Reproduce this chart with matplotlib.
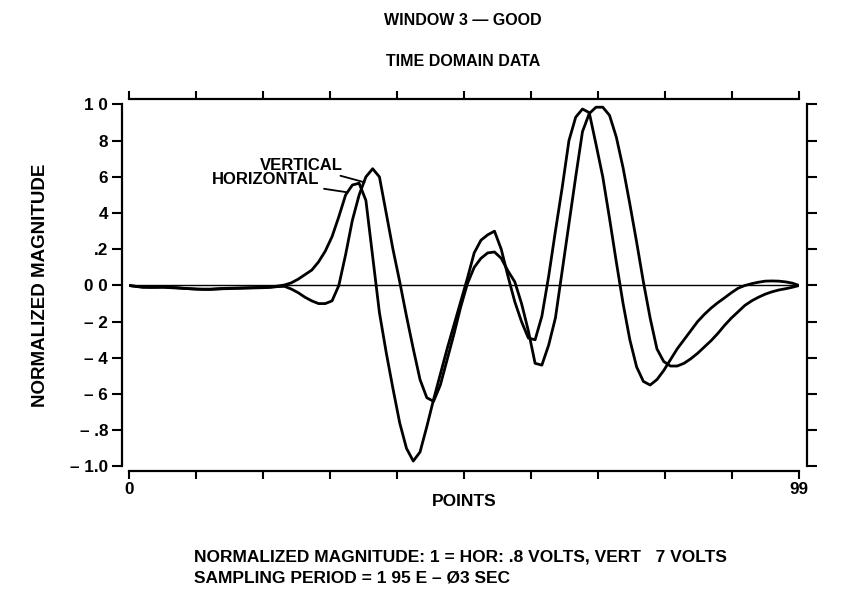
import numpy as np
import matplotlib
matplotlib.use("Agg")
import matplotlib.pyplot as plt

plt.rcParams['font.family'] = ['Liberation Sans', 'DejaVu Sans']
plt.rcParams['font.weight'] = 'bold'
plt.rcParams['axes.labelweight'] = 'bold'

# sample index 0..99
points = np.arange(100)

# horizontal channel, normalized
horizontal = [
    0.0, -0.005, -0.01, -0.01, -0.01, -0.008, -0.01, -0.012, -0.015, -0.018,
    -0.02, -0.02, -0.02, -0.018, -0.016, -0.015, -0.014, -0.013, -0.012, -0.011,
    -0.01, -0.008, -0.003, 0.003, 0.015, 0.035, 0.06, 0.085, 0.13, 0.19,
    0.27, 0.38, 0.5, 0.555, 0.565, 0.47, 0.16, -0.15, -0.37, -0.57,
    -0.76, -0.9, -0.97, -0.92, -0.78, -0.63, -0.49, -0.35, -0.22, -0.09,
    0.04, 0.18, 0.25, 0.28, 0.3, 0.2, 0.05, -0.09, -0.2, -0.29,
    -0.3, -0.17, 0.05, 0.3, 0.54, 0.8, 0.93, 0.975, 0.955, 0.78,
    0.6, 0.37, 0.13, -0.1, -0.3, -0.45, -0.53, -0.55, -0.52, -0.47,
    -0.41, -0.35, -0.3, -0.25, -0.2, -0.16, -0.125, -0.095, -0.068, -0.04,
    -0.015, 0.0, 0.01, 0.018, 0.024, 0.025, 0.024, 0.02, 0.013, 0.0,
]

# vertical channel, normalized
vertical = [
    0.0, -0.005, -0.008, -0.01, -0.01, -0.01, -0.012, -0.014, -0.016, -0.018,
    -0.02, -0.022, -0.022, -0.02, -0.018, -0.017, -0.016, -0.015, -0.014, -0.013,
    -0.012, -0.01, -0.006, -0.005, -0.02, -0.04, -0.065, -0.085, -0.1, -0.1,
    -0.085, 0.0, 0.17, 0.36, 0.5, 0.6, 0.645, 0.6, 0.4, 0.2,
    0.02, -0.17, -0.35, -0.52, -0.62, -0.64, -0.55, -0.41, -0.27, -0.12,
    0.01, 0.1, 0.15, 0.18, 0.185, 0.15, 0.08, 0.02, -0.1, -0.25,
    -0.43, -0.44, -0.33, -0.18, 0.08, 0.34, 0.6, 0.85, 0.95, 0.985,
    0.985, 0.94, 0.82, 0.65, 0.45, 0.24, 0.02, -0.18, -0.35, -0.42,
    -0.445, -0.445, -0.43, -0.405, -0.375, -0.34, -0.305, -0.265, -0.22, -0.18,
    -0.145, -0.11, -0.085, -0.065, -0.048, -0.035, -0.025, -0.018, -0.01, 0.0,
]

y_ticks = [1.0, 0.8, 0.6, 0.4, 0.2, 0.0, -0.2, -0.4, -0.6, -0.8, -1.0]
y_labels = ["1 0", "8", "6", "4", ".2", "0 0", "– 2", "– 4", "– 6", "– .8", "– 1.0"]
x_ticks = np.linspace(0, 99, 11)
x_labels = ["0"] + [""] * 9 + ["99"]

fig = plt.figure(figsize=(8.46, 5.95), dpi=100)
ax = fig.add_axes([0.1525, 0.2160, 0.7920, 0.6084])

ax.plot(points, horizontal, color='black', linewidth=2.0, solid_joinstyle='round')
ax.plot(points, vertical, color='black', linewidth=2.0, solid_joinstyle='round')
ax.axhline(0, color='black', linewidth=1.0)

ax.set_xlim(0, 99)
ax.set_ylim(-1.0, 1.0)

# spines pulled apart like the old plotter frame
ax.spines['left'].set_position(('outward', 5))
ax.spines['right'].set_position(('outward', 5.5))
ax.spines['top'].set_position(('outward', 3.8))
ax.spines['bottom'].set_position(('outward', 3.3))
for s in ax.spines.values():
    s.set_linewidth(1.6)

ax.set_yticks(y_ticks)
ax.set_yticklabels(y_labels, fontsize=12.3)
ax.set_xticks(x_ticks)
ax.set_xticklabels(x_labels, fontsize=12.3)
ax.tick_params(axis='y', left=True, right=True, direction='out', length=7, width=1.5, pad=3)
ax.tick_params(axis='x', bottom=True, top=True, direction='out', length=6, width=1.5, pad=2)

ax.set_xlabel("POINTS", fontsize=12.5, labelpad=-2)
ax.set_ylabel("NORMALIZED MAGNITUDE", fontsize=13.5, labelpad=15)

fig.text(0.547, 0.966, "WINDOW 3 — GOOD", ha='center', va='center', fontsize=11.5)
fig.text(0.547, 0.896, "TIME DOMAIN DATA", ha='center', va='center', fontsize=11.5)

# curve labels with leader lines
ax.annotate("VERTICAL", xy=(34.8, 0.57), xytext=(31.6, 0.665),
            ha='right', va='center', fontsize=12,
            arrowprops=dict(arrowstyle='-', color='black', linewidth=1.3, shrinkA=1, shrinkB=0))
ax.annotate("HORIZONTAL", xy=(32.2, 0.515), xytext=(28.2, 0.583),
            ha='right', va='center', fontsize=12,
            arrowprops=dict(arrowstyle='-', color='black', linewidth=1.3, shrinkA=1, shrinkB=0))

fig.text(0.229, 0.064, "NORMALIZED MAGNITUDE: 1 = HOR: .8 VOLTS, VERT   7 VOLTS",
         ha='left', va='center', fontsize=12.5)
fig.text(0.229, 0.029, "SAMPLING PERIOD = 1 95 E – Ø3 SEC",
         ha='left', va='center', fontsize=12.5)

fig.savefig("out.png", dpi=100)
